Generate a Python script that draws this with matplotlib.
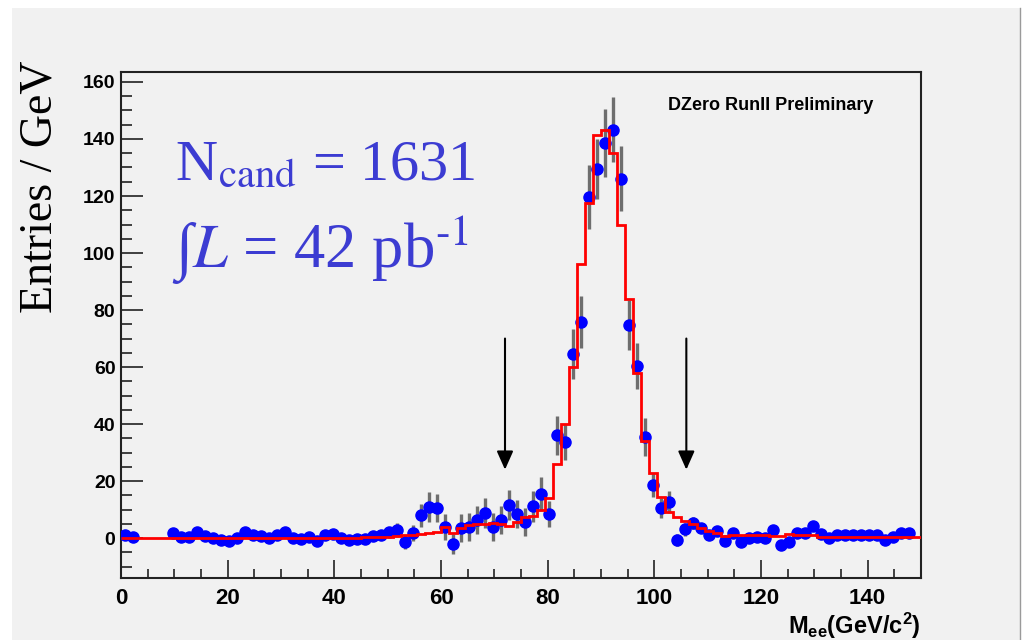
import numpy as np
import matplotlib
matplotlib.use('Agg')
import matplotlib.pyplot as plt
from matplotlib.patches import Rectangle
from matplotlib.ticker import MultipleLocator

plt.rcParams['mathtext.fontset'] = 'custom'
plt.rcParams['mathtext.rm'] = 'Liberation Sans:bold'
plt.rcParams['mathtext.bf'] = 'Liberation Sans:bold'
plt.rcParams['mathtext.it'] = 'Liberation Sans:bold:italic'

# Dielectron mass, 1.5 GeV bins from 0 to 150
bin_width = 1.5
nan = np.nan

# background-subtracted data (entries / GeV), nan = empty bin
data = [1.0, 0.5, nan, nan, nan, nan, 1.7, 0.5, 0.3, 2.2,
        0.7, 0.0, -0.7, -1.0, 0.0, 2.2, 1.0, 0.7, 0.0, 1.0,
        2.0, 0.0, -0.3, 0.5, -1.0, 1.0, 1.5, 0.0, -0.7, -0.3,
        -0.3, 0.7, 1.0, 2.0, 2.8, -1.3, 1.8, 8.0, 10.8, 10.5,
        4.0, -2.1, 3.5, 3.9, 6.3, 8.8, 3.9, 6.3, 11.6, 8.4,
        5.6, 11.2, 15.4, 8.4, 36.1, 33.7, 64.6, 75.8, 119.6, 129.5,
        138.6, 143.2, 126.0, 74.7, 60.4, 35.4, 18.6, 10.5, 12.6, -0.7,
        3.1, 5.3, 3.5, 1.1, 2.5, -1.0, 1.8, -1.4, 0.0, 0.5,
        0.0, 2.8, -2.5, -1.4, 1.8, 1.8, 4.2, 1.6, 0.0, 1.1,
        1.1, 1.1, 1.1, 1.1, 1.1, -0.7, 0.5, 1.8, 1.8, nan]

data_err = [1.0, 1.0, 0, 0, 0, 0, 1.2, 1.2, 1.2, 1.2,
            1.2, 1.2, 1.2, 1.2, 1.2, 1.2, 1.2, 1.2, 1.2, 1.2,
            1.2, 1.2, 1.2, 1.2, 1.2, 1.2, 1.2, 1.2, 1.2, 1.2,
            1.2, 1.2, 1.2, 1.2, 2.5, 2.5, 2.8, 4.0, 5.2, 5.0,
            4.6, 3.5, 4.8, 4.8, 5.0, 5.2, 4.8, 5.0, 5.4, 5.0,
            5.0, 5.4, 6.0, 4.5, 6.8, 6.2, 8.8, 9.2, 11.2, 10.5,
            12.0, 11.4, 11.4, 8.8, 8.2, 6.7, 4.1, 3.5, 3.8, 2.0,
            2.2, 2.2, 1.5, 1.5, 1.5, 1.5, 1.5, 1.5, 1.5, 1.5,
            1.5, 1.5, 1.5, 1.5, 1.5, 1.5, 1.5, 1.5, 1.5, 1.5,
            1.5, 1.5, 1.5, 1.5, 1.5, 1.5, 1.5, 1.5, 1.5, 0]

# Monte Carlo expectation
mc = [0.2, 0.2, 0.2, 0.2, 0.2, 0.2, 0.2, 0.2, 0.2, 0.2,
      0.2, 0.2, 0.2, 0.2, 0.2, 0.2, 0.2, 0.2, 0.2, 0.2,
      0.2, 0.2, 0.2, 0.2, 0.2, 0.2, 0.2, 0.2, 0.2, 0.2,
      0.3, 0.3, 0.4, 0.5, 0.6, 1.0, 1.1, 1.5, 1.8, 2.0,
      4.0, 1.8, 3.5, 4.5, 5.0, 5.0, 5.2, 5.0, 4.3, 5.5,
      7.5, 7.8, 10.0, 14.0, 26.0, 40.0, 60.0, 96.0, 117.5, 141.4,
      143.0, 135.0, 110.0, 84.0, 58.0, 34.0, 23.0, 14.4, 9.2, 7.4,
      6.0, 4.9, 3.5, 2.6, 1.7, 0.8, 1.1, 1.1, 1.0, 1.2,
      1.0, 0.8, 0.8, 1.6, 1.2, 1.0, 1.0, 0.5, 0.5, 0.5,
      0.5, 0.5, 0.5, 0.5, 0.5, 0.5, 0.5, 0.5, 0.5, 0.5]

# mass window cuts (arrows)
cuts = [72, 106]
arrow_from, arrow_to = 70, 24

n_cand = 1631
lumi = 42

edges = np.arange(len(mc) + 1) * bin_width
centers = edges[:-1] + bin_width / 2

fig = plt.figure(figsize=(10.24, 6.4), dpi=100)
fig.patch.set_facecolor('white')
fig.patches.append(Rectangle((12 / 1024, 0), 1008 / 1024, 632 / 640,
                             transform=fig.transFigure, facecolor='#f1f1f1',
                             edgecolor='none', zorder=-5))
fig.lines.append(plt.Line2D([1020 / 1024, 1020 / 1024], [0, 632 / 640],
                            transform=fig.transFigure, color='#9a9a9a', lw=1,
                            zorder=-4))

ax = fig.add_axes([121 / 1024, 62 / 640, 800 / 1024, 506 / 640])
ax.set_zorder(1)
ax.set_facecolor('#f1f1f1')

ax.errorbar(centers, data, yerr=data_err, fmt='none', ecolor='#6e6e6e',
            elinewidth=2.4, capsize=0, zorder=2)
ax.plot(centers, data, 'o', color='#0000ff', markersize=8, zorder=3)
ax.stairs(mc, edges, color='#ff0000', lw=2.0, zorder=4)

for c in cuts:
    ax.annotate('', xy=(c, arrow_to), xytext=(c, arrow_from),
                arrowprops=dict(arrowstyle='-|>,head_length=0.45,head_width=0.2',
                                color='black', lw=1.5, mutation_scale=25,
                                shrinkA=0, shrinkB=0), zorder=5)

ax.set_xlim(0, 150)
ax.set_ylim(-14, 163.5)
ax.xaxis.set_major_locator(MultipleLocator(20))
ax.xaxis.set_minor_locator(MultipleLocator(5))
ax.yaxis.set_major_locator(MultipleLocator(20))
ax.yaxis.set_minor_locator(MultipleLocator(5))
ax.tick_params(axis='both', which='both', direction='in', top=False, right=False,
               color='#222222', width=1.2)
ax.tick_params(axis='y', which='major', length=16, pad=4)
ax.tick_params(axis='y', which='minor', length=8)
ax.tick_params(axis='x', which='major', length=13, pad=7)
ax.tick_params(axis='x', which='minor', length=6.5)
for lab in ax.get_yticklabels():
    lab.set_fontfamily('Liberation Sans')
    lab.set_fontweight('bold')
    lab.set_fontsize(14)
for lab in ax.get_xticklabels():
    lab.set_fontfamily('Liberation Sans')
    lab.set_fontweight('bold')
    lab.set_fontsize(16)
for s in ax.spines.values():
    s.set_color('#222222')
    s.set_linewidth(1.5)

ax.set_xlabel(r'M$_{\rm ee}$(GeV/c$^{\rm 2}$)', fontfamily='Liberation Sans',
              fontweight='bold', fontsize=17)
ax.xaxis.set_label_coords(1.0, -0.065)
ax.xaxis.label.set_horizontalalignment('right')

fig.text(40 / 1024, 1 - 187 / 640, 'Entries / GeV', rotation=90,
         fontfamily='Liberation Serif', fontsize=33, ha='center', va='center')

fig.text(668 / 1024, 1 - 106 / 640, 'DZero RunII Preliminary',
         fontfamily='Liberation Sans', fontweight='bold', fontsize=13,
         ha='left', va='center')

blue = '#3c3cd2'
fig.text(175 / 1024, 1 - 180 / 640, r'N$_{\rm cand}$ = %d' % n_cand,
         fontfamily=['Liberation Serif', 'STIXGeneral'], math_fontfamily='stix',
         fontsize=42, color=blue, ha='left', va='baseline')
fig.text(172 / 1024, 1 - 268 / 640,
         '\u222b' + r'$L$ = %d pb$^{\text{-1}}$' % lumi,
         fontfamily=['Liberation Serif', 'STIXGeneral'], math_fontfamily='stix',
         fontsize=45, color=blue, ha='left', va='baseline')

fig.savefig('out.png', dpi=100)
